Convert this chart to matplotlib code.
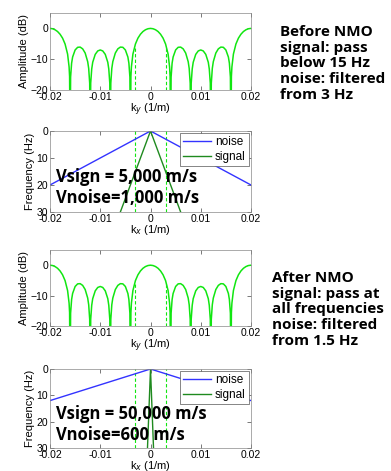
import numpy as np
import matplotlib
matplotlib.use("Agg")
import matplotlib.pyplot as plt

plt.rcParams["font.family"] = ["Liberation Sans", "DejaVu Sans"]

# ── Array response (dB) ───────────────────────────────────────────────────────
K_AMP = [-0.02, -0.0195, -0.019, -0.0185, -0.018, -0.0175, -0.017, -0.0165, -0.0162, -0.0161, -0.016,
         -0.0159, -0.0157, -0.0155, -0.015, -0.0145, -0.014, -0.0135, -0.013, -0.0125, -0.0123, -0.0121, -0.012,
         -0.0119, -0.0117, -0.0115, -0.011, -0.0105, -0.01, -0.0095, -0.009, -0.0085, -0.0083, -0.0081, -0.008,
         -0.0079, -0.0077, -0.0075, -0.007, -0.0065, -0.006, -0.0055, -0.005, -0.0045, -0.0043, -0.0041, -0.004,
         -0.0039, -0.0038, -0.0035, -0.003, -0.0025, -0.002, -0.0015, -0.001, -0.0005, 0.0,
         0.0005, 0.001, 0.0015, 0.002, 0.0025, 0.003, 0.0035, 0.0038, 0.0039, 0.004,
         0.0041, 0.0043, 0.0045, 0.005, 0.0055, 0.006, 0.0065, 0.007, 0.0075, 0.0077, 0.0079, 0.008,
         0.0081, 0.0083, 0.0085, 0.009, 0.0095, 0.01, 0.0105, 0.011, 0.0115, 0.0117, 0.0119, 0.012,
         0.0121, 0.0123, 0.0125, 0.013, 0.0135, 0.014, 0.0145, 0.015, 0.0155, 0.0157, 0.0159, 0.016,
         0.0161, 0.0162, 0.0165, 0.017, 0.0175, 0.018, 0.0185, 0.019, 0.0195, 0.02]
DB_AMP = [0.0, -0.11, -0.44, -1.01, -1.89, -3.16, -5.07, -8.34, -12.5, -15.6, -40,
          -15.8, -11.3, -9.3, -7.0, -6.14, -6.07, -6.64, -8.0, -10.8, -13.0, -17.8, -40,
          -17.8, -13.2, -11.0, -8.44, -7.32, -7.0, -7.32, -8.44, -11.0, -13.2, -17.8, -40,
          -17.8, -13.0, -10.8, -8.0, -6.64, -6.07, -6.14, -7.0, -9.3, -11.3, -15.8, -40,
          -15.6, -12.5, -8.34, -5.07, -3.16, -1.89, -1.01, -0.44, -0.11, 0.0,
          -0.11, -0.44, -1.01, -1.89, -3.16, -5.07, -8.34, -12.5, -15.6, -40,
          -15.8, -11.3, -9.3, -7.0, -6.14, -6.07, -6.64, -8.0, -10.8, -13.0, -17.8, -40,
          -17.8, -13.2, -11.0, -8.44, -7.32, -7.0, -7.32, -8.44, -11.0, -13.2, -17.8, -40,
          -17.8, -13.0, -10.8, -8.0, -6.64, -6.07, -6.14, -7.0, -9.3, -11.3, -15.8, -40,
          -15.6, -12.5, -8.34, -5.07, -3.16, -1.89, -1.01, -0.44, -0.11, 0.0]

# filter cut-off (dashed)
K_CUT = 0.0031
DB_CUT_TOP = [-6.3, -6.3]

# ── f-k lines ────────────────────────────────────────────────────────────────
K_NOISE = [-0.02, 0.0, 0.02]
F_NOISE_BEFORE = [20, 0, 20]
F_NOISE_AFTER = [12, 0, 12]
K_SIG_BEFORE = [-0.006, 0.0, 0.006]
K_SIG_AFTER = [-0.0006, 0.0, 0.0006]
F_SIG = [30, 0, 30]

VEL_TEXT = [("Vsign = 5,000 m/s", "Vnoise=1,000 m/s"),
            ("Vsign = 50,000 m/s", "Vnoise=600 m/s")]
SIDE_TEXT = ["Before NMO\nsignal: pass\nbelow 15 Hz\nnoise: filtered\nfrom 3 Hz",
             "After NMO\nsignal: pass at\nall frequencies\nnoise: filtered\nfrom 1.5 Hz"]

LIGHT_GREEN = "#11e611"
DARK_GREEN = "#1f8a1f"
BLUE = "#3333ff"
BOLD_FONT = ["Open Sans", "DejaVu Sans"]

W, H = 391, 471
fig = plt.figure(figsize=(W / 100, H / 100), dpi=100)


def box(x0, y0, x1, y1):
    return [x0 / W, 1 - y1 / H, (x1 - x0) / W, (y1 - y0) / H]


def style(ax):
    ax.set_xlim(-0.02, 0.02)
    ax.set_xticks([-0.02, -0.01, 0, 0.01, 0.02])
    ax.set_xticklabels(["-0.02", "-0.01", "0", "0.01", "0.02"])
    ax.tick_params(direction="in", top=True, right=True, labelsize=7.5,
                   length=3, width=0.5, pad=1.5, color="#444444")
    for s in ax.spines.values():
        s.set_linewidth(0.5)
        s.set_color("#888888")


def amp_panel(rect, sub):
    ax = fig.add_axes(rect)
    ax.plot(K_AMP, DB_AMP, color=LIGHT_GREEN, lw=1.1)
    for kc in (-K_CUT, K_CUT):
        ax.plot([kc, kc], [DB_CUT_TOP[0], -20], color=LIGHT_GREEN, lw=0.8, ls=(0, (3, 2)))
    ax.set_ylim(-20, 5)
    ax.set_yticks([0, -10, -20])
    style(ax)
    ax.set_ylabel("Amplitude (dB)", fontsize=8, labelpad=1)
    ax.set_xlabel("k$_%s$ (1/m)" % sub, fontsize=8, labelpad=0)
    return ax


def fk_panel(rect, f_noise, k_sig, texts):
    ax = fig.add_axes(rect)
    for kc in (-0.003, 0.003):
        ax.axvline(kc, color=LIGHT_GREEN, lw=0.8, ls=(0, (3, 2)))
    ax.plot(K_NOISE, f_noise, color=BLUE, lw=1.0, label="noise")
    ax.plot(k_sig, F_SIG, color=DARK_GREEN, lw=1.0, label="signal")
    ax.set_ylim(30, 0)
    ax.set_yticks([0, 10, 20, 30])
    style(ax)
    ax.set_ylabel("Frequency (Hz)", fontsize=8, labelpad=1)
    ax.set_xlabel("k$_x$ (1/m)", fontsize=8, labelpad=-1)
    leg = ax.legend(loc="upper right", fontsize=8.5, handlelength=2.4, handletextpad=0.3,
                    borderpad=0.3, labelspacing=0.2, fancybox=False, framealpha=1,
                    borderaxespad=0.15)
    leg.get_frame().set_linewidth(0.5)
    leg.get_frame().set_edgecolor("#555555")
    ax.text(0.03, 0.43, texts[0], transform=ax.transAxes, fontsize=12,
            fontweight="bold", family=BOLD_FONT, va="center", zorder=6)
    ax.text(0.03, 0.17, texts[1], transform=ax.transAxes, fontsize=12,
            fontweight="bold", family=BOLD_FONT, va="center", zorder=6)
    return ax


amp_panel(box(50, 13, 251, 90), "y")
fk_panel(box(50, 131, 251, 212), F_NOISE_BEFORE, K_SIG_BEFORE, VEL_TEXT[0])
amp_panel(box(50, 250, 251, 326), "y")
fk_panel(box(50, 369, 251, 448), F_NOISE_AFTER, K_SIG_AFTER, VEL_TEXT[1])

fig.text(280 / W, 1 - 25 / H, SIDE_TEXT[0], fontsize=11, fontweight="bold",
         family=BOLD_FONT, va="top", ha="left", linespacing=1.15)
fig.text(272 / W, 1 - 271 / H, SIDE_TEXT[1], fontsize=11, fontweight="bold",
         family=BOLD_FONT, va="top", ha="left", linespacing=1.15)

fig.savefig("out.png", dpi=100)
